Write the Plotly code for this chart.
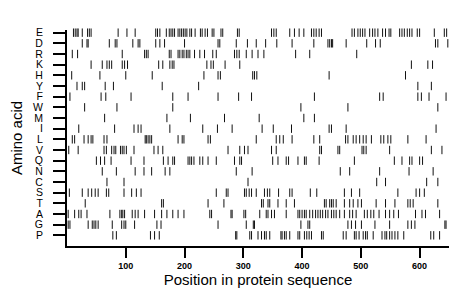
import plotly.graph_objects as go

amino_acids = ["E", "D", "R", "K", "H", "Y", "F", "W", "M", "I",
               "L", "V", "Q", "N", "C", "S", "T", "A", "G", "P"]

E = [11, 14, 17, 19, 26, 35, 38, 41, 87, 102, 116, 151, 154, 158, 169, 174, 177, 180, 183, 189, 192, 195, 198, 201, 204, 209, 212, 218, 227, 230, 235, 239, 247, 250, 262, 265, 290, 293, 348, 352, 356, 379, 387, 395, 403, 416, 420, 424, 429, 433, 485, 489, 495, 499, 503, 507, 515, 520, 524, 529, 537, 542, 548, 551, 566, 570, 574, 579, 583, 587, 596, 600, 625, 642, 646]
D = [26, 34, 36, 72, 82, 85, 112, 121, 124, 151, 158, 166, 200, 257, 260, 288, 307, 322, 338, 357, 383, 420, 444, 447, 450, 452, 475, 510, 525, 533, 627, 631, 648]
R = [9, 18, 94, 132, 135, 138, 174, 177, 189, 192, 196, 199, 203, 206, 209, 217, 226, 234, 248, 254, 285, 289, 293, 305, 315, 325, 335, 389, 413, 493]
K = [41, 60, 68, 72, 76, 94, 98, 103, 156, 163, 175, 179, 182, 238, 245, 249, 269, 294, 586, 614, 622]
H = [8, 56, 100, 145, 233, 257, 261, 316, 319, 323, 446, 576]
Y = [17, 26, 30, 65, 79, 162, 224, 597, 620]
F = [5, 58, 66, 109, 180, 206, 257, 292, 314, 421, 532, 538, 597, 603, 616, 645]
W = [30, 85, 180, 398, 478, 631]
M = [64, 170, 210, 268, 327, 403, 421]
I = [20, 81, 114, 121, 126, 175, 231, 256, 281, 332, 351, 382, 446, 450, 475, 628]
L = [9, 13, 29, 36, 41, 44, 63, 68, 133, 135, 138, 141, 144, 189, 196, 199, 240, 244, 322, 356, 362, 368, 383, 420, 430, 474, 478, 487, 492, 498, 504, 509, 518, 534, 539, 546, 551, 580, 611]
V = [3, 19, 63, 67, 76, 80, 83, 91, 94, 97, 101, 114, 148, 155, 163, 274, 294, 302, 308, 348, 356, 430, 433, 461, 464, 502, 505, 509, 549, 620, 638]
Q = [50, 57, 64, 75, 109, 131, 164, 172, 180, 183, 206, 209, 212, 216, 226, 231, 240, 254, 285, 294, 297, 350, 359, 373, 377, 393, 404, 407, 429, 489, 557, 570, 583, 587, 600, 605]
N = [60, 84, 116, 131, 144, 167, 175, 288, 315, 465, 481, 532, 582, 623]
C = [68, 97, 308, 527, 542, 612, 631]
S = [4, 26, 36, 42, 48, 53, 67, 71, 97, 110, 118, 126, 254, 271, 274, 302, 305, 310, 314, 322, 336, 341, 345, 360, 379, 383, 414, 425, 472, 484, 498, 563, 594, 600, 608]
T = [31, 161, 164, 240, 267, 331, 334, 342, 345, 359, 373, 387, 438, 441, 447, 450, 453, 458, 472, 481, 487, 495, 501, 526, 542, 558, 580, 584, 589, 631]
A = [2, 13, 20, 24, 34, 73, 90, 93, 95, 98, 111, 116, 121, 132, 149, 161, 170, 180, 189, 199, 243, 246, 279, 281, 301, 304, 328, 339, 342, 348, 353, 373, 393, 396, 400, 404, 407, 413, 418, 423, 427, 431, 435, 440, 444, 450, 454, 458, 464, 472, 481, 486, 492, 506, 511, 517, 522, 531, 542, 549, 556, 564, 593, 604, 610, 634]
G = [2, 5, 36, 43, 46, 49, 53, 77, 93, 97, 100, 115, 153, 160, 257, 305, 317, 319, 398, 410, 413, 478, 484, 491, 501, 524, 549, 580, 586, 592, 643, 645]
P = [78, 84, 142, 149, 157, 287, 289, 311, 314, 325, 331, 336, 339, 345, 364, 366, 370, 373, 379, 393, 396, 404, 408, 412, 416, 433, 436, 470, 475, 489, 492, 497, 504, 508, 511, 521, 536, 541, 544, 549, 553, 558, 563, 573, 619, 624, 634]

rows = [E, D, R, K, H, Y, F, W, M, I, L, V, Q, N, C, S, T, A, G, P]
x_ticks = [100, 200, 300, 400, 500, 600]

xs, ys = [], []
for i, positions in enumerate(rows):
    xs.extend(positions)
    ys.extend([i] * len(positions))

fig = go.Figure(go.Scatter(
    x=xs, y=ys, mode="markers",
    marker=dict(symbol="line-ns", size=6, line=dict(width=1, color="#111111")),
    cliponaxis=False, hoverinfo="skip",
))

fig.update_layout(
    width=460, height=299,
    margin=dict(l=59, r=19, t=22, b=61),
    paper_bgcolor="white", plot_bgcolor="white",
    showlegend=False,
    font=dict(family="Liberation Sans, Arial, sans-serif", color="#000000"),
)
fig.update_xaxes(
    range=[0, 650], tickvals=x_ticks, ticktext=[str(t) for t in x_ticks],
    showgrid=False, zeroline=False, automargin=False,
    showline=True, linecolor="#000000", linewidth=2,
    ticks="outside", ticklen=10, tickwidth=1.5, tickcolor="#000000",
    tickfont=dict(size=9, weight="bold"),
    title=dict(text="Position in protein sequence", font=dict(size=15), standoff=2),
)
fig.update_yaxes(
    range=[20.0, -0.25], tickvals=list(range(len(amino_acids))), ticktext=amino_acids,
    showgrid=False, zeroline=False, automargin=False,
    showline=True, linecolor="#000000", linewidth=2,
    ticks="outside", ticklen=12, tickwidth=1.5, tickcolor="#000000",
    tickfont=dict(size=10.5), ticklabelstandoff=8,
    title=dict(text="Amino acid", font=dict(size=15), standoff=9),
)

fig.write_html("out.html")
